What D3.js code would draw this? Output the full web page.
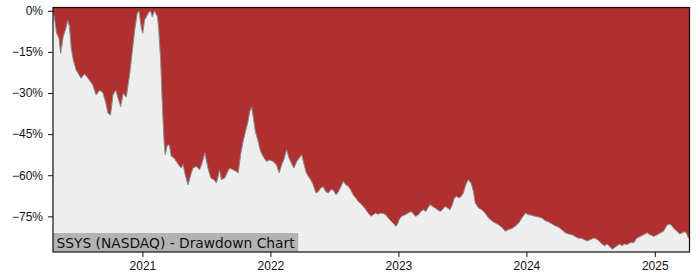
<!DOCTYPE html>
<html>
<head>
<meta charset="utf-8">
<script src="https://cdn.jsdelivr.net/npm/d3@7"></script>
<style>
  body { margin: 0; background: #fff; }
  svg { display: block; font-family: "DejaVu Sans", sans-serif; }
</style>
</head>
<body>
<div id="chart"></div>
<script>
// drawdown (%), roughly weekly
const dates = [
  '2020-04-21','2020-04-26','2020-05-01','2020-05-08','2020-05-13','2020-05-20','2020-05-29','2020-06-02',
  '2020-06-07','2020-06-12','2020-06-18','2020-06-26','2020-07-10','2020-07-20','2020-07-30','2020-08-12',
  '2020-08-22','2020-09-01','2020-09-10','2020-09-18','2020-09-25','2020-10-02','2020-10-09','2020-10-17',
  '2020-10-24','2020-10-31','2020-11-07','2020-11-16','2020-11-26','2020-12-03','2020-12-10','2020-12-17',
  '2020-12-22','2020-12-29','2021-01-02','2021-01-07','2021-01-17','2021-01-24','2021-01-29','2021-02-05',
  '2021-02-10','2021-02-13','2021-02-16','2021-02-22','2021-02-26','2021-03-03','2021-03-07','2021-03-13',
  '2021-03-19','2021-03-24','2021-04-01','2021-04-08','2021-04-14','2021-04-22','2021-04-27','2021-05-03',
  '2021-05-11','2021-05-19','2021-05-25','2021-06-04','2021-06-13','2021-06-20','2021-06-28','2021-07-02',
  '2021-07-07','2021-07-15','2021-07-24','2021-07-31','2021-08-05','2021-08-09','2021-08-14','2021-08-24',
  '2021-09-01','2021-09-07','2021-09-16','2021-09-26','2021-10-01','2021-10-08','2021-10-15','2021-10-22',
  '2021-10-29','2021-11-03','2021-11-08','2021-11-12','2021-11-19','2021-11-27','2021-12-04','2021-12-11',
  '2021-12-21','2021-12-30','2022-01-09','2022-01-18','2022-01-26','2022-02-02','2022-02-08','2022-02-16',
  '2022-02-23','2022-03-02','2022-03-09','2022-03-17','2022-03-24','2022-03-31','2022-04-05','2022-04-12',
  '2022-04-19','2022-04-26','2022-05-03','2022-05-11','2022-05-17','2022-05-24','2022-05-31','2022-06-08',
  '2022-06-15','2022-06-22','2022-06-29','2022-07-07','2022-07-14','2022-07-21','2022-07-28','2022-08-04',
  '2022-08-11','2022-08-18','2022-08-25','2022-09-02','2022-09-08','2022-09-18','2022-09-27','2022-10-07',
  '2022-10-15','2022-10-21','2022-10-28','2022-11-04','2022-11-12','2022-11-19','2022-11-26','2022-12-03',
  '2022-12-11','2022-12-17','2022-12-24','2022-12-29','2023-01-03','2023-01-10','2023-01-20','2023-01-29',
  '2023-02-06','2023-02-12','2023-02-19','2023-02-27','2023-03-06','2023-03-13','2023-03-20','2023-03-26',
  '2023-04-01','2023-04-08','2023-04-16','2023-04-23','2023-04-30','2023-05-06','2023-05-14','2023-05-22',
  '2023-05-28','2023-06-04','2023-06-09','2023-06-16','2023-06-23','2023-06-29','2023-07-05','2023-07-12',
  '2023-07-19','2023-07-27','2023-08-03','2023-08-08','2023-08-17','2023-08-27','2023-09-05','2023-09-15',
  '2023-09-24','2023-10-04','2023-10-13','2023-10-23','2023-11-02','2023-11-11','2023-11-21','2023-11-30',
  '2023-12-10','2023-12-19','2023-12-29','2024-01-07','2024-01-17','2024-01-26','2024-02-04','2024-02-14',
  '2024-02-24','2024-03-04','2024-03-14','2024-03-23','2024-04-02','2024-04-12','2024-04-21','2024-04-30',
  '2024-05-10','2024-05-20','2024-05-29','2024-06-03','2024-06-13','2024-06-22','2024-07-02','2024-07-11',
  '2024-07-21','2024-07-28','2024-08-04','2024-08-11','2024-08-18','2024-08-26','2024-09-02','2024-09-08',
  '2024-09-16','2024-09-23','2024-09-30','2024-10-06','2024-10-14','2024-10-23','2024-11-02','2024-11-11',
  '2024-11-21','2024-11-30','2024-12-10','2024-12-19','2024-12-29','2025-01-08','2025-01-17','2025-01-26',
  '2025-02-03','2025-02-09','2025-02-16','2025-02-23','2025-03-05','2025-03-13','2025-03-20','2025-03-26',
  '2025-04-01','2025-04-07','2025-04-10'
];
const drawdown = [
  0, -3.4, -8, -10, -15.5, -9.5, -5.8, -3.4,
  -5.8, -13.7, -18, -21.6, -24.6, -23, -24.6, -27,
  -30.7, -29, -29.8, -33.2, -37.4, -38, -30.7, -29,
  -32, -35, -30.1, -31.5, -22.8, -14.9, -7, -1,
  0, -6.4, -8.2, -3.4, -1, 0, -2.2, 0,
  -1.5, -2, -6, -18, -32, -46, -52.5, -49,
  -49, -53, -53.7, -55, -56.2, -57.4, -56, -59.8,
  -63.5, -59.8, -57.4, -56.8, -58, -55.6, -51.9, -54.4,
  -57.4, -61, -61.6, -62.8, -60.4, -58, -61.6, -61,
  -58.6, -57.4, -58, -58.6, -59.2, -52.5, -47.7, -44,
  -40.4, -36.8, -35, -38, -44, -47.7, -51.3, -53.1,
  -55, -54.4, -55, -56.2, -59.2, -56.2, -54.4, -50.7,
  -53.7, -55.6, -57.4, -55, -53.7, -52.5, -55, -58.6,
  -60.4, -61.6, -63.5, -66.5, -66, -64.7, -64.1, -66,
  -66.5, -65.3, -65.3, -67.1, -66, -64.1, -62.2, -63.5,
  -64, -65.3, -67.1, -68.3, -69.5, -70.7, -72, -73.8,
  -75, -74.4, -73.8, -74.2, -73.8, -74, -74.4, -75.6,
  -76.8, -77.4, -78.6, -78, -76.2, -75, -74.4, -73.8,
  -73.2, -74, -75, -74.4, -73.2, -72.6, -73.2, -71.9,
  -70.7, -71.3, -72, -72.6, -73.2, -72.6, -71.3, -72,
  -72.6, -70.7, -68.3, -67.7, -68.3, -67.7, -66.5, -63.5,
  -61.6, -62.8, -66, -70.1, -71.9, -72.6, -73.8, -75.6,
  -76.6, -77.4, -78, -79, -80.4, -79.8, -79.4, -78.6,
  -77.4, -75.6, -73.8, -74.4, -74.6, -75, -75.2, -75.6,
  -76.6, -77, -77.8, -78.4, -79, -80, -81, -81.4,
  -81.7, -82.4, -83, -82.9, -83.4, -84, -83.4, -82.9,
  -83.4, -84.3, -85.1, -85.7, -85.1, -86, -87, -86.4,
  -85.7, -85.1, -85.7, -85.1, -85.3, -84.6, -84.6, -82.9,
  -82.3, -81.7, -81, -81.7, -82.3, -81.7, -81, -80.4,
  -78.6, -77.8, -78, -79.2, -80.4, -81.4, -81, -80.6,
  -81, -82.9, -83
];
const yTicks = [0, -15, -30, -45, -60, -75];
const xTickYears = [2021, 2022, 2023, 2024, 2025];
const title = 'SSYS (NASDAQ) - Drawdown Chart';

const width = 700;
const height = 280;
const margin = { top: 7.5, right: 10.5, bottom: 28, left: 53 };

const parse = d3.timeParse('%Y-%m-%d');
const data = dates.map((d, i) => ({ date: parse(d), value: drawdown[i] }));

const svg = d3.select('#chart')
  .append('svg')
  .attr('width', width)
  .attr('height', height);

const x = d3.scaleTime()
  .domain(d3.extent(data, (d) => d.date))
  .range([margin.left, width - margin.right]);

const y = d3.scaleLinear()
  .domain([-88, 1.2])
  .range([height - margin.bottom, margin.top]);

// red background = distance from peak
svg.append('rect')
  .attr('x', margin.left)
  .attr('y', margin.top)
  .attr('width', width - margin.left - margin.right)
  .attr('height', height - margin.top - margin.bottom)
  .attr('fill', '#b03030');

// grey underwater part from the bottom up to the drawdown curve
const area = d3.area()
  .x((d) => x(d.date))
  .y0(height - margin.bottom)
  .y1((d) => y(d.value));

svg.append('path')
  .datum(data)
  .attr('d', area)
  .attr('fill', '#eeeeee');

svg.append('path')
  .datum(data)
  .attr('d', d3.line().x((d) => x(d.date)).y((d) => y(d.value)))
  .attr('fill', 'none')
  .attr('stroke', '#8a8a8a')
  .attr('stroke-width', 1);

// label box in the bottom left corner
const label = svg.append('g');
const labelText = label.append('text')
  .attr('x', margin.left + 3.5)
  .attr('y', height - margin.bottom - 4.5)
  .style('font-size', '13.8px')
  .attr('fill', '#111')
  .text(title);
const bb = labelText.node().getBBox();
label.insert('rect', 'text')
  .attr('x', margin.left)
  .attr('y', height - margin.bottom - 19)
  .attr('width', bb.width + 6.5)
  .attr('height', 19)
  .attr('fill', '#b3b3b3');

// axes
const yAxis = d3.axisLeft(y)
  .tickValues(yTicks)
  .tickSize(5)
  .tickPadding(5)
  .tickFormat((d) => (d === 0 ? '0%' : '\u2212' + Math.abs(d) + '%'));

svg.append('g')
  .attr('transform', `translate(${margin.left},0)`)
  .call(yAxis)
  .call((g) => g.select('.domain').remove())
  .call((g) => g.selectAll('text').style('font-size', '12px').attr('fill', '#111'))
  .call((g) => g.selectAll('line').attr('stroke', '#111'));

const xAxis = d3.axisBottom(x)
  .tickValues(xTickYears.map((yr) => new Date(yr, 0, 1)))
  .tickSize(5)
  .tickPadding(4)
  .tickFormat(d3.timeFormat('%Y'));

svg.append('g')
  .attr('transform', `translate(0,${height - margin.bottom})`)
  .call(xAxis)
  .call((g) => g.select('.domain').remove())
  .call((g) => g.selectAll('text').style('font-size', '12px').attr('fill', '#111'))
  .call((g) => g.selectAll('line').attr('stroke', '#111'));

// frame
svg.append('rect')
  .attr('x', margin.left)
  .attr('y', margin.top)
  .attr('width', width - margin.left - margin.right)
  .attr('height', height - margin.top - margin.bottom)
  .attr('fill', 'none')
  .attr('stroke', '#111')
  .attr('stroke-width', 1.2);
</script>
</body>
</html>
